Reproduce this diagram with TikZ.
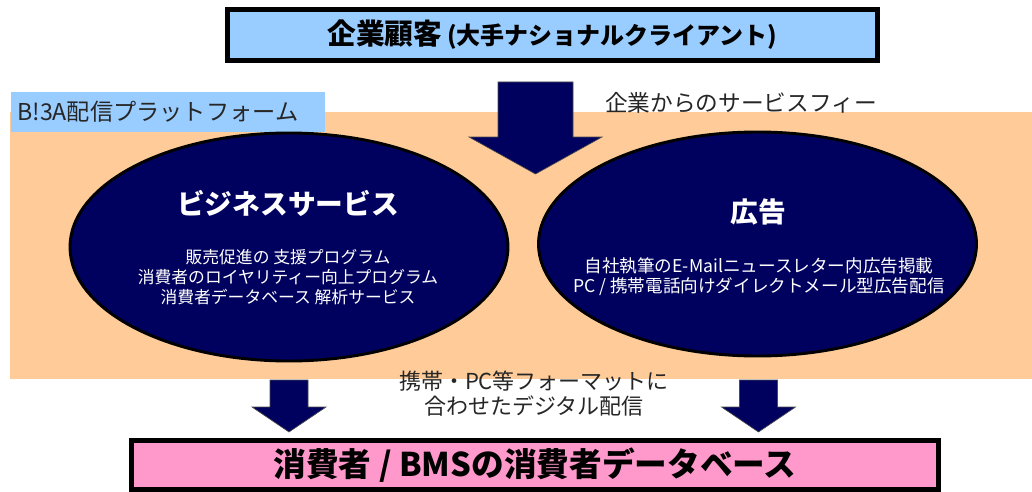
\documentclass[tikz,border=0pt]{standalone}
\usepackage{fontspec}
\setmainfont{Noto Sans CJK JP}
\usetikzlibrary{shapes.geometric}
\definecolor{lblue}{HTML}{99CCFF}
\definecolor{peach}{HTML}{FFCC99}
\definecolor{navy}{HTML}{00005F}
\definecolor{pinkbox}{HTML}{FF99CC}
\newcommand\pxf[2]{\fontsize{#1}{#2}\selectfont}
\tikzset{
  titlebox/.style={draw=black, line width=3.75pt, inner sep=0pt, rectangle},
  oval/.style={ellipse, draw=black, line width=2.2pt, fill=navy, inner sep=0pt},
  ovaltitle/.style={text=white, font=\pxf{20.8pt}{24pt}\bfseries, inner sep=0pt},
  ovaltext/.style={text=white, font=\pxf{12.6pt}{15pt}, inner sep=0pt},
  blockarrow/.style={fill=navy, draw=black!70, line width=0.5pt, line join=miter},
  plain/.style={text=black!85, inner sep=0pt}
}
\begin{document}
\begin{tikzpicture}[x=0.75pt,y=-0.75pt]
\useasboundingbox (0,0) rectangle (1032,492);
% platform background
\node (platform) [rectangle, fill=peach, inner sep=0pt, minimum width=766.5pt, minimum height=200.25pt] at (521,245.5) {};
\node (platlabel) [rectangle, fill=lblue, inner sep=0pt, minimum width=235.5pt, minimum height=30pt] at (168,112) {};
\node (platlabeltext) [plain, anchor=west, font=\pxf{17.4pt}{20pt}] at (17,112) {B!3A配信プラットフォーム};
% top client box
\node (client) [titlebox, fill=lblue, minimum width=487.5pt, minimum height=38.25pt] at (552.5,35)
  {\pxf{21.5pt}{24pt}\bfseries 企業顧客\,{\pxf{18pt}{21pt}(大手ナショナルクライアント)}};
% ellipses
\node (biz) [oval, minimum width=328.5pt, minimum height=171pt] at (289,247) {};
\node (ad) [oval, minimum width=328.5pt, minimum height=168pt] at (757.5,244) {};
\node (biztitle) [ovaltitle] at (288,203) {ビジネスサービス};
\node (biztext) [ovaltext, align=center] at (288,277)
  {販売促進の 支援プログラム\\消費者のロイヤリティー向上プログラム\\消費者データベース 解析サービス};
\node (adtitle) [ovaltitle] at (758,212) {広告};
\node (adtext) [ovaltext, align=center, font=\pxf{13.2pt}{15pt}] at (759,277)
  {自社執筆のE-Mailニュースレター内広告掲載\\PC / 携帯電話向けダイレクトメール型広告配信};
% labels
\node (fee) [plain, font=\pxf{17pt}{19pt}] at (741,103) {企業からのサービスフィー};
\node (delivery) [plain, align=center, font=\pxf{16.5pt}{18.75pt}] at (534,394)
  {携帯・PC等フォーマットに\\合わせたデジタル配信};
% bottom consumer box
\node (consumer) [titlebox, fill=pinkbox, minimum width=605.25pt, minimum height=36.75pt] at (535,465)
  {\pxf{24.5pt}{28pt}\bfseries 消費者 / BMSの消費者データベース};
% arrows
\coordinate (feetail) at (535.5,82);
\coordinate (lefttail) at (289,380);
\coordinate (righttail) at (758.5,380);
\draw[blockarrow] (feetail) ++(-37.5,0) -- ++(75,0) -- ++(0,55) -- ++(29,0) -- ++(-66.5,37) -- ++(-66.5,-37) -- ++(29,0) -- cycle;
\draw[blockarrow] (lefttail) ++(-19,0) -- ++(38,0) -- ++(0,27) -- ++(18,0) -- ++(-37,25) -- ++(-37,-25) -- ++(18,0) -- cycle;
\draw[blockarrow] (righttail) ++(-19,0) -- ++(38,0) -- ++(0,27) -- ++(18,0) -- ++(-37,25) -- ++(-37,-25) -- ++(18,0) -- cycle;
\end{tikzpicture}
\end{document}
